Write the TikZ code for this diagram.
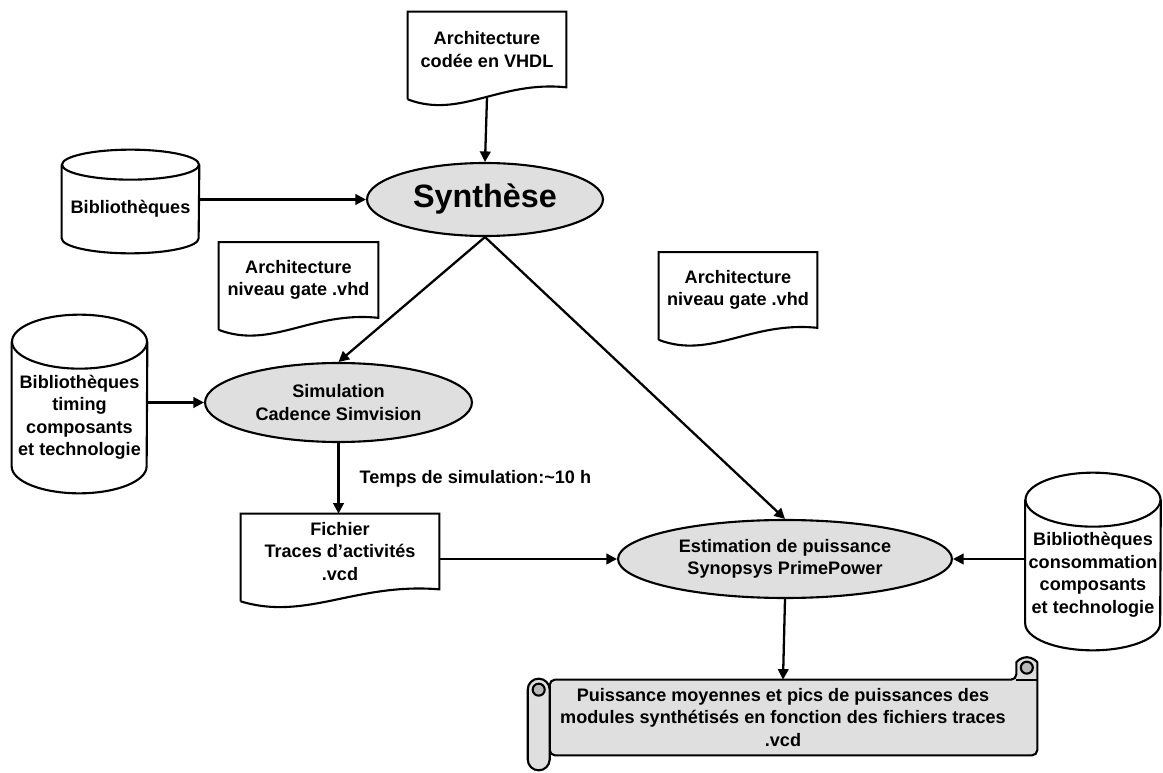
\documentclass[tikz,border=0pt]{standalone}
\usepackage{fontspec}
\setmainfont{Liberation Sans}
\usetikzlibrary{arrows.meta,positioning,calc,shapes.geometric,backgrounds}
% sheet with a wavy lower edge
\newcommand{\docframe}[1]{%
  \draw[shapeline] ($(#1.south west)+(0,-0.24cm)$) -- (#1.north west) -- (#1.north east)
    -- (#1.south east) .. controls ($(#1.south west)!0.58!(#1.south east)+(0,0.14cm)$)
    and ($(#1.south west)!0.33!(#1.south east)+(0,-0.64cm)$) .. ($(#1.south west)+(0,-0.24cm)$);}
% disk store: #2 = half width, #3 = half height of the lids
\newcommand{\cylframe}[3]{%
  \draw[shapeline] (#1.north west) -- ($(#1.south west)+(0,#3)$)
    arc[start angle=180, end angle=360, x radius=#2, y radius=#3] -- (#1.north east);
  \draw[shapeline] (#1.north) ellipse[x radius=#2, y radius=#3];}

\begin{document}
\begin{tikzpicture}[x=0.02cm, y=-0.02cm, >={Triangle[length=6pt,width=6pt]},
    shapeline/.style={line width=1.2pt},
    txt/.style={font=\fontsize{10.3}{12.8}\selectfont\bfseries, align=center, inner sep=0pt},
    sheet/.style={txt, minimum height=1.5cm},
    store/.style={txt, minimum width=2.7cm},
    task/.style={txt, ellipse, draw, line width=1.2pt, fill=gray!25},
    link/.style={->, line width=1.3pt}]
\useasboundingbox (0,0) rectangle (1163,773);

\node[sheet, minimum width=3.16cm] (vhdl) at (487,49.5) {Architecture\\codée en VHDL};
\node[store, minimum width=2.74cm, minimum height=1.76cm] (bib) at (130.5,209) {Bibliothèques};
\node[task, minimum width=4.72cm, minimum height=1.46cm,
  font=\fontsize{18.4}{22}\selectfont\bfseries] (synth) at (485,199.5) {Synthèse};
\node[sheet, minimum width=3.18cm] (gateL) at (298.5,280) {Architecture\\niveau gate .vhd};
\node[sheet, minimum width=3.16cm] (gateR) at (738,290) {Architecture\\niveau gate .vhd};
\node[store, minimum height=3.02cm] (timing) at (79.5,417.5) {Bibliothèques\\timing\\composants\\et technologie};
\node[task, minimum width=5.34cm, minimum height=1.58cm] (simu) at (338.5,402.5) {Simulation\\Cadence Simvision};
\node[sheet, minimum width=3.96cm] (vcd) at (340,551.5) {Fichier\\Traces d’activités\\.vcd};
\node[task, minimum width=6.68cm, minimum height=1.56cm] (estim) at (785,559) {Estimation de puissance\\Synopsys PrimePower};
\node[store, minimum height=3cm] (conso) at (1093,575) {Bibliothèques\\consommation\\composants\\et technologie};
\node[txt, minimum width=9.32cm, minimum height=1.5cm] (result) at (783,717.5)
  {Puissance moyennes et pics de puissances des\\modules synthétisés en fonction des fichiers traces\\.vcd};

\docframe{vhdl}
\docframe{gateL}
\docframe{gateR}
\docframe{vcd}
\cylframe{bib}{1.37cm}{0.3cm}
\cylframe{timing}{1.35cm}{0.54cm}
\cylframe{conso}{1.35cm}{0.54cm}

% scroll behind the result text
\begin{scope}[on background layer]
  \draw[shapeline, fill=gray!25, rounded corners=3pt] (result.south west) -- (result.north west)
    -- (result.north east) -- ++(0,-12) arc[start angle=180, end angle=0, radius=0.21cm]
    -- ($(result.south east)+(21,0)$) -- cycle;
  \draw[shapeline, fill=gray!25] ($(result.south west)+(0,4)$) -- ($(result.north west)+(0,10)$)
    arc[start angle=0, end angle=180, radius=0.22cm] -- ($(result.south west)+(-22,4)$)
    arc[start angle=180, end angle=360, radius=0.22cm] -- cycle;
  \draw[shapeline, fill=gray!55] ($(result.north west)+(-11,10)$) circle[radius=0.12cm];
  \draw[shapeline] (result.north east) -- ++(21,0);
  \draw[shapeline, fill=gray!55] ($(result.north east)+(10.5,-12)$) circle[radius=0.12cm];
\end{scope}

\draw[link] ($(vhdl.south)+(0,10)$) -- (synth.north);
\draw[link] (bib.east |- synth.west) -- (synth.west);
\draw[link] (synth.south) -- (simu.north);
\draw[link] (synth.south) -- (estim.north);
\draw[link] (timing.east |- simu.west) -- (simu.west);
\draw[link] (simu.south) -- (simu.south |- vcd.north)
  node[midway, right=0.4cm, txt] {Temps de simulation:\textasciitilde10 h};
\draw[link] (vcd.east |- estim.west) -- (estim.west);
\draw[link] (conso.west |- estim.east) -- (estim.east);
\draw[link] (estim.south) -- (result.north);
\end{tikzpicture}
\end{document}
